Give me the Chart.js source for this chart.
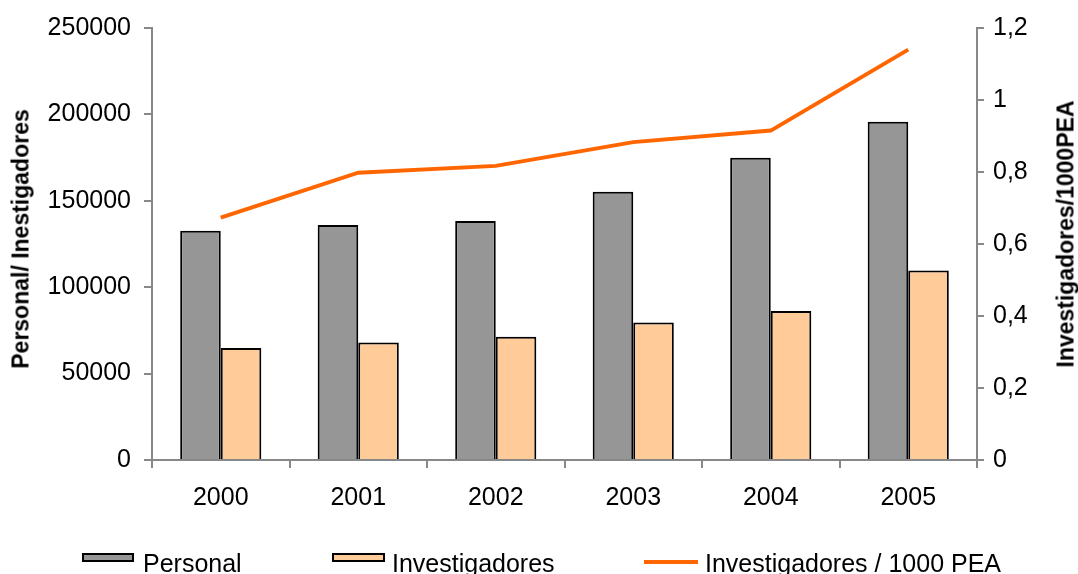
<!DOCTYPE html>
<html>
<head>
<meta charset="utf-8">
<script src="https://cdn.jsdelivr.net/npm/chart.js@4.4.1/dist/chart.umd.min.js"></script>
<style>
  body { margin: 0; background: #fff; }
  #wrap { position: relative; width: 1078px; height: 574px; overflow: hidden; font-family: "Liberation Sans", Arial, sans-serif; }
  #wrap canvas { position: absolute; left: 0; top: 0; }
  .axis-title { position: absolute; font-weight: bold; font-size: 23px; white-space: nowrap; color: #000;
    transform: translate(-50%, -50%) rotate(-90deg); }
  .lg-text { position: absolute; font-size: 25px; line-height: 25px; color: #000; white-space: nowrap; }
  .lg-box { position: absolute; box-sizing: border-box; border: 2px solid #000; }
  .lg-line { position: absolute; background: #ff6600; }
</style>
</head>
<body>
<div id="wrap">
  <canvas id="chart" width="1078" height="574"></canvas>
  <div class="axis-title" style="left:21px; top:239px;">Personal/ Inestigadores</div>
  <div class="axis-title" style="left:1066px; top:234px;">Investigadores/1000PEA</div>

  <div class="lg-box" style="left:82px; top:553px; width:52px; height:9px; background:#969696;"></div>
  <div class="lg-text" style="left:143px; top:551px;">Personal</div>
  <div class="lg-box" style="left:332px; top:553px; width:53px; height:9px; background:#ffcc99;"></div>
  <div class="lg-text" style="left:392px; top:551px;">Investigadores</div>
  <div class="lg-line" style="left:644px; top:560px; width:54px; height:4px;"></div>
  <div class="lg-text" style="left:705px; top:551px;">Investigadores / 1000 PEA</div>
</div>
<script>
(function () {
    'use strict';

    var years = ['2000', '2001', '2002', '2003', '2004', '2005'];
    var personal = [132600, 136000, 138300, 155300, 174900, 195800];
    var investigadores = [64800, 68000, 71300, 79500, 86200, 109600];
    var porMilPEA = [0.673, 0.798, 0.817, 0.883, 0.915, 1.14];

    var axisGray = '#888888';
    var tickFont = { family: '"Liberation Sans", Arial, sans-serif', size: 25 };

    var ctx = document.getElementById('chart');

    new Chart(ctx, {
        type: 'bar',
        data: {
            labels: years,
            datasets: [
                {
                    type: 'line',
                    label: 'Investigadores / 1000 PEA',
                    data: porMilPEA,
                    yAxisID: 'y1',
                    borderColor: '#ff6600',
                    borderWidth: 4,
                    pointRadius: 0,
                    tension: 0,
                    fill: false,
                    order: 0
                },
                {
                    label: 'Personal',
                    data: personal,
                    yAxisID: 'y',
                    backgroundColor: '#969696',
                    borderColor: '#000',
                    borderWidth: 2,
                    categoryPercentage: 0.59,
                    barPercentage: 1.0,
                    order: 1
                },
                {
                    label: 'Investigadores',
                    data: investigadores,
                    yAxisID: 'y',
                    backgroundColor: '#ffcc99',
                    borderColor: '#000',
                    borderWidth: 2,
                    categoryPercentage: 0.59,
                    barPercentage: 1.0,
                    order: 1
                }
            ]
        },
        options: {
            responsive: false,
            animation: false,
            layout: { padding: { top: 25, left: 0, right: 0, bottom: 0 } },
            plugins: {
                legend: { display: false },
                tooltip: { enabled: false }
            },
            scales: {
                x: {
                    grid: { display: true, offset: true, drawOnChartArea: false, drawTicks: true, tickLength: 8, color: axisGray, lineWidth: 2 },
                    border: { display: true, color: axisGray, width: 2 },
                    ticks: { color: '#000', font: tickFont, padding: 15, maxRotation: 0 },
                    afterFit: function (scale) { scale.height = 114; }
                },
                y: {
                    position: 'left',
                    min: 0,
                    max: 250000,
                    grid: { display: true, drawOnChartArea: false, drawTicks: true, tickLength: 8, color: axisGray, lineWidth: 2 },
                    border: { display: true, color: axisGray, width: 2 },
                    ticks: {
                        stepSize: 50000,
                        color: '#000',
                        font: tickFont,
                        padding: 13,
                        callback: function (v) { return String(v); }
                    },
                    afterFit: function (scale) { scale.width = 152; }
                },
                y1: {
                    position: 'right',
                    min: 0,
                    max: 1.2,
                    grid: { display: true, drawOnChartArea: false, drawTicks: true, tickLength: 7, color: axisGray, lineWidth: 2 },
                    border: { display: true, color: axisGray, width: 2 },
                    ticks: {
                        stepSize: 0.2,
                        color: '#000',
                        font: tickFont,
                        padding: 9,
                        callback: function (v) { return String(Math.round(v * 10) / 10).replace('.', ','); }
                    },
                    afterFit: function (scale) { scale.width = 101; }
                }
            }
        }
    });
})();
</script>
</body>
</html>
